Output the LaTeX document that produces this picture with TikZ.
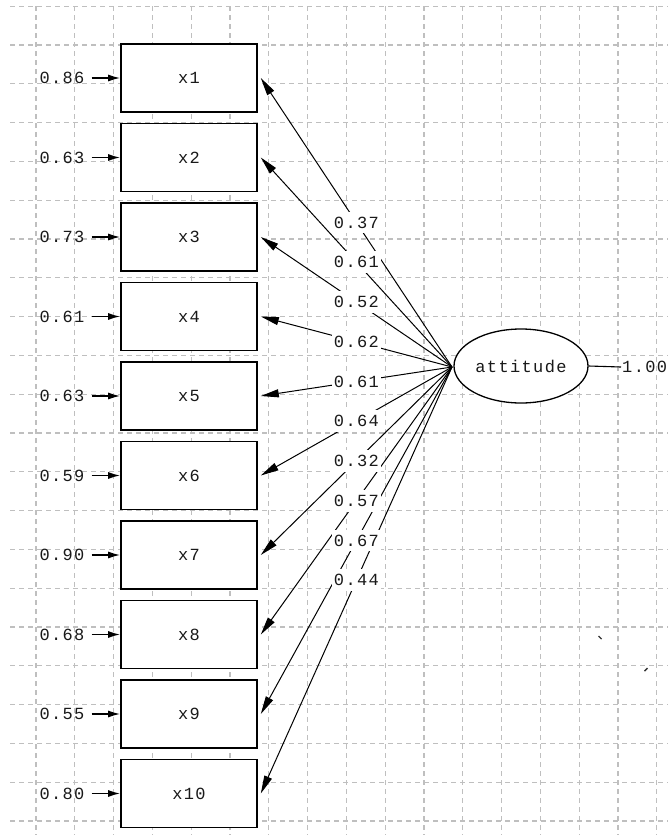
\documentclass[tikz,border=0pt]{standalone}
\usepackage{fontspec}
\newfontfamily\lisfont[LetterSpace=8]{Liberation Mono}
\usetikzlibrary{arrows.meta,shapes.geometric}
\begin{document}
\begin{tikzpicture}[x=1pt,y=-1pt,
  txt/.style={font=\lisfont\fontsize{17}{20}\selectfont, text=black!90},
  gridline/.style={draw=black!25, line width=1.1pt, dash pattern=on 5pt off 4pt},
  obs/.style={txt, draw, line width=1.6pt, fill=white, minimum width=136pt,
    minimum height=68pt, inner sep=0pt},
  latent/.style={txt, ellipse, draw, line width=1.3pt, fill=white,
    minimum width=134pt, minimum height=74pt, inner sep=0pt},
  errlab/.style={txt, inner sep=3pt},
  errarrow/.style={line width=1.5pt, shorten <=4pt, -{Latex[length=12pt,width=7pt]}},
  load/.style={line width=1pt, -{Triangle[length=18pt,width=8pt]}},
  lab/.style={txt, fill=white, inner xsep=2pt, inner ysep=5pt}
]
\fill[white] (0,0) rectangle (668,835);
\useasboundingbox (0,0) rectangle (668,835);

% dashed background grid
\foreach \k in {0,...,16}
  \draw[gridline] ({36+38.8*\k},6) -- ({36+38.8*\k},835);
\foreach \k in {0,...,21}
  \draw[gridline] (10,{6.2+38.8*\k}) -- (668,{6.2+38.8*\k});

% observed variables and their error variances
\foreach \i/\v in {1/0.86, 2/0.63, 3/0.73, 4/0.61, 5/0.63,
                   6/0.59, 7/0.90, 8/0.68, 9/0.55, 10/0.80} {
  \node[obs] (x\i) at (189,{78+79.5*(\i-1)}) {x\i};
  \node[errlab] (e\i) at (62,{78+79.5*(\i-1)}) {\v};
  \draw[errarrow] (e\i) -- (x\i);
}

% latent factor with its variance
\node[latent] (att) at (521,366) {attitude};
\node[txt, anchor=west, inner sep=1pt] (v) at (621,367) {1.00};
\draw[line width=1.1pt] (att.east) -- (v.west);

% factor loadings
\coordinate (src) at (452,367);
\foreach \i in {1,...,10}
  \draw[load] (src) -- ([xshift=3pt]x\i.east);
\foreach \i/\v in {1/0.37, 2/0.61, 3/0.52, 4/0.62, 5/0.61,
                   6/0.64, 7/0.32, 8/0.57, 9/0.67, 10/0.44}
  \path (src) -- ([xshift=3pt]x\i.east) node[lab, midway] (l\i) {\v};

% two small specks
\draw[line width=1.4pt, black!80] (598.5,636) -- (601.5,639);
\draw[line width=1.4pt, black!80] (644.5,671) -- (647.5,668);
\end{tikzpicture}
\end{document}
